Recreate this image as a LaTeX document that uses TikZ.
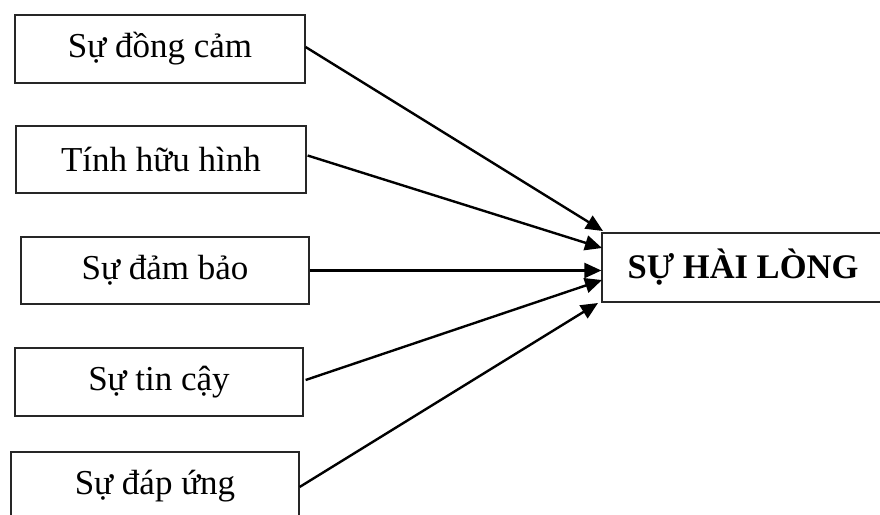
\documentclass[tikz,border=0pt]{standalone}
\usepackage{fontspec}
\setmainfont{Liberation Serif}
\usetikzlibrary{arrows.meta,calc}
\begin{document}
\begin{tikzpicture}[x=1pt,y=-1pt,
  box/.style={draw=black!85,line width=1.2pt,rectangle,inner sep=0pt,font=\fontsize{35}{40}\selectfont},
  arr/.style={line width=2.4pt,-{Triangle[length=17pt,width=15pt]}}]
\useasboundingbox (0,0) rectangle (880,514);
\node[box,minimum width=290,minimum height=68] (b1) at (160,49) {Sự đồng cảm};
\node[box,minimum width=290,minimum height=67] (b2) at (161,159.5) {Tính hữu hình};
\node[box,minimum width=288,minimum height=67] (b3) at (165,270.5) {Sự đảm bảo};
\node[box,minimum width=288,minimum height=68] (b4) at (159,382) {Sự tin cậy};
\node[box,minimum width=288,minimum height=68] (b5) at (155,486) {Sự đáp ứng};
\node[box,minimum width=282,minimum height=69,font=\bfseries\fontsize{34.5}{40}\selectfont] (hl) at (743,267.5) {SỰ HÀI LÒNG};
\coordinate (t1) at (603,231);
\coordinate (t2) at (602,248);
\coordinate (t4) at (602,280);
\coordinate (t5) at (598,303);
\draw[arr] (b1.east) ++(0,-2) -- (t1);
\draw[arr] (b2.east) ++(1,-4) -- (t2);
\draw[arr] (b3.east) -- (hl.west |- b3.east);
\draw[arr] (b4.east) ++(2,-2) -- (t4);
\draw[arr] (b5.east) ++(0,1) -- (t5);
\end{tikzpicture}
\end{document}
